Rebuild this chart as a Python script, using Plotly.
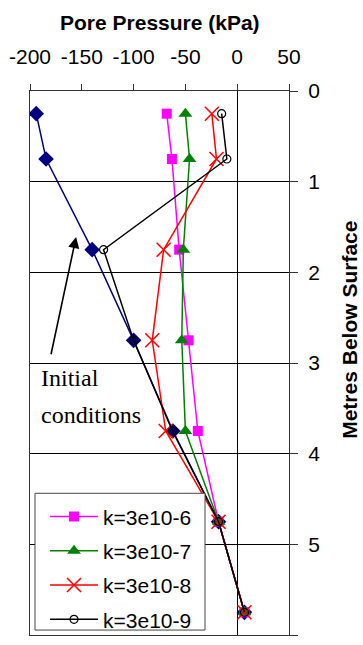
import plotly.graph_objects as go

depth = [0.25, 0.75, 1.75, 2.75, 3.75, 4.75, 5.75]
initial = [-194, -184.5, -140, -100, -62, -18, 7]
k6 = [-68, -63, -56, -47, -38, -18, 7]
k7 = [-50, -46, -52, -53.5, -50, -18, 7]
k8 = [-24.5, -20, -71, -82, -69, -18, 7]
k9 = [-15, -10, -129, -100, -62.5, -18, 7]

x_ticks = [-200, -150, -100, -50, 0, 50]
x_labels = ["-200", "-150", "-100", "-50", "0", "50"]
y_ticks = [0, 1, 2, 3, 4, 5, 6]

FONT = "Liberation Sans, Arial, sans-serif"
SERIF = "Liberation Serif, Times New Roman, serif"

fig = go.Figure()
fig.add_trace(go.Scatter(x=initial, y=depth, mode="lines+markers", showlegend=False,
                         line=dict(color="#000080", width=1.5),
                         marker=dict(symbol="diamond", size=12, color="#000080")))
fig.add_trace(go.Scatter(x=k6, y=depth, mode="lines+markers", name="k=3e10-6", legendgroup="a",
                         line=dict(color="#ff00ff", width=1.5),
                         marker=dict(symbol="square", size=10, color="#ff00ff")))
fig.add_trace(go.Scatter(x=k7, y=depth, mode="lines+markers", name="k=3e10-7", legendgroup="b",
                         line=dict(color="#008000", width=1.5),
                         marker=dict(symbol="triangle-up", size=12, color="#008000")))
fig.add_trace(go.Scatter(x=k8, y=depth, mode="lines+markers", name="k=3e10-8", legendgroup="c",
                         line=dict(color="#ff0000", width=1.5),
                         marker=dict(symbol="x-thin", size=14, color="#ff0000",
                                     line=dict(color="#ff0000", width=1.5))))
fig.add_trace(go.Scatter(x=k9, y=depth, mode="lines+markers", name="k=3e10-9", legendgroup="d",
                         line=dict(color="#000000", width=1.5),
                         marker=dict(symbol="circle-open", size=8, color="#000000",
                                     line=dict(color="#000000", width=1.2))))

fig.update_layout(
    width=363, height=645,
    margin=dict(l=30, r=74, t=91, b=5),
    paper_bgcolor="white", plot_bgcolor="white",
    font=dict(family=FONT, size=21, color="black"),
    xaxis=dict(side="top", range=[-200, 50], tickvals=x_ticks, ticktext=x_labels,
               ticks="outside", ticklen=6, ticklabelstandoff=12,
               tickcolor="#333", showline=True, linecolor="#333", linewidth=1, mirror=True,
               showgrid=False, zeroline=True, zerolinecolor="black", zerolinewidth=1,
               tickfont=dict(size=21)),
    yaxis=dict(side="right", range=[6, 0], tickvals=y_ticks, ticks="outside", ticklen=8,
               ticklabelstandoff=6,
               tickcolor="#333", showline=True, linecolor="#333", linewidth=1, mirror=True,
               showgrid=True, gridcolor="black", gridwidth=1, zeroline=False,
               tickfont=dict(size=21)),
    legend=dict(x=0.058, y=0.255, xanchor="left", yanchor="top", bgcolor="rgba(0,0,0,0)",
                borderwidth=0, font=dict(size=21), itemwidth=48,
                tracegroupgap=4),
    showlegend=True,
)

# legend frame
fig.add_shape(type="rect", xref="paper", yref="paper", x0=0.0193, x1=0.6757, y0=0.0091, y1=0.2605,
              line=dict(color="#444", width=1), fillcolor="white", layer="above")

fig.add_annotation(text="<b>Pore Pressure (kPa)</b>", xref="paper", yref="paper",
                   x=0.502, y=1.1257, xanchor="center", yanchor="middle", showarrow=False,
                   font=dict(size=21))
fig.add_annotation(text="<b>Metres Below Surface</b>", xref="paper", yref="paper",
                   x=1.2355, y=0.561, xanchor="center", yanchor="middle", showarrow=False,
                   textangle=-90, font=dict(size=21))
fig.add_annotation(text="Initial", xref="x", yref="y", x=-191, y=3.17,
                   xanchor="left", yanchor="middle", showarrow=False,
                   font=dict(family=SERIF, size=24))
fig.add_annotation(text="conditions", xref="x", yref="y", x=-191, y=3.57,
                   xanchor="left", yanchor="middle", showarrow=False,
                   font=dict(family=SERIF, size=24))
fig.add_annotation(text="", xref="x", yref="y", axref="x", ayref="y",
                   x=-155.5, y=1.61, ax=-180, ay=2.92, showarrow=True,
                   arrowhead=2, arrowsize=1.4, arrowwidth=1.6, arrowcolor="black")

fig.write_html("out.html")
